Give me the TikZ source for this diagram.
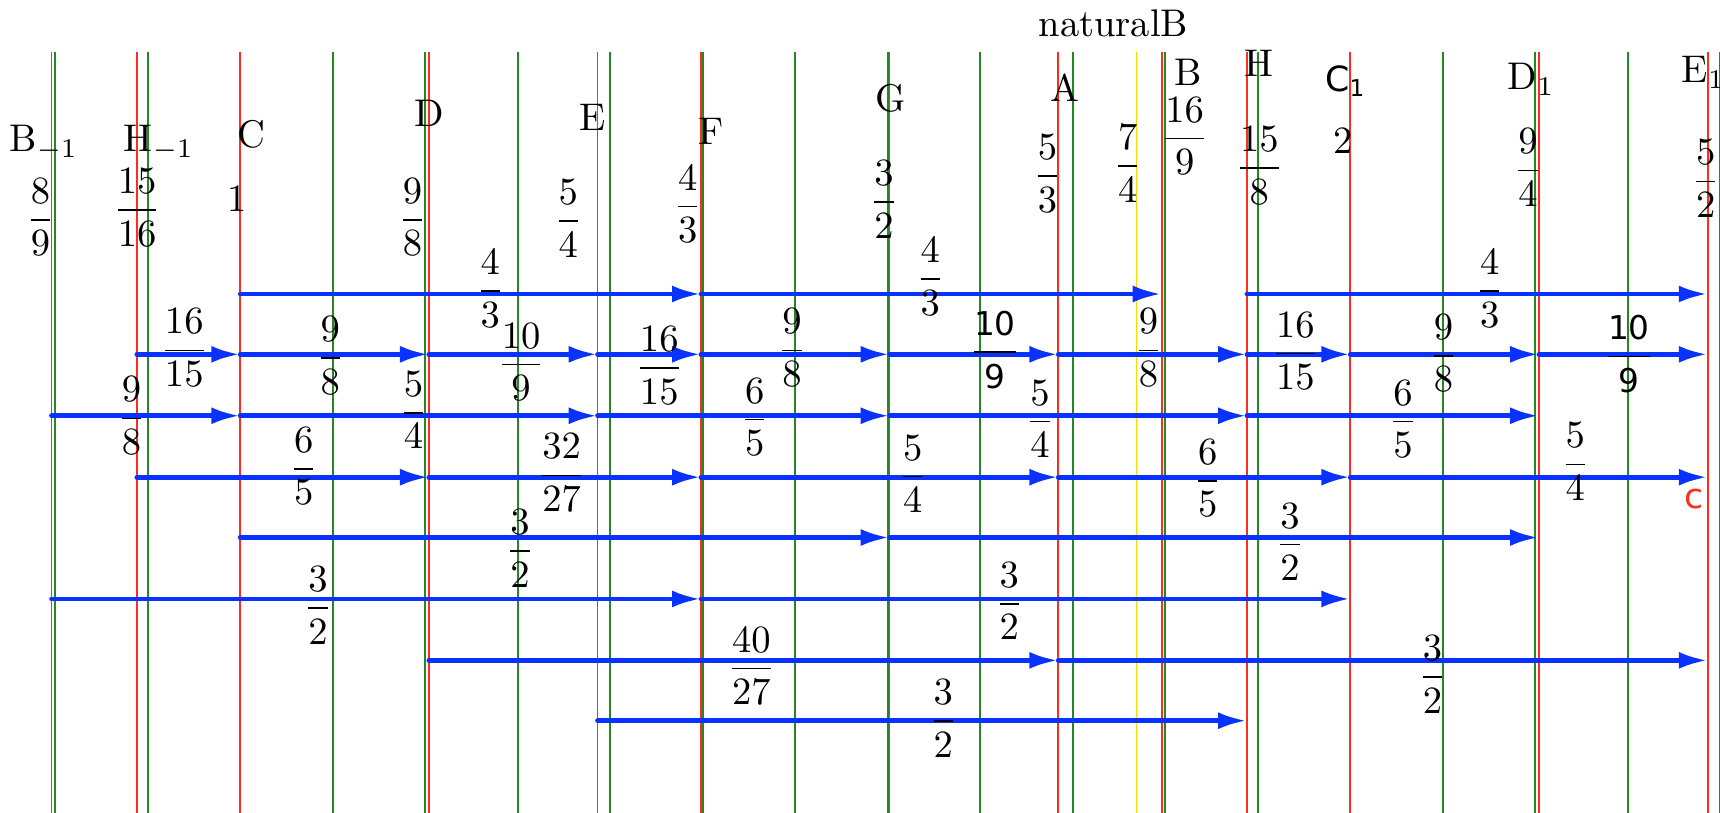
\documentclass[tikz,border=0pt]{standalone}
\usepackage{amsmath}
\usepackage{fontspec}
\newfontfamily\dejavu{DejaVu Sans}
\usetikzlibrary{arrows.meta}
\definecolor{jired}{RGB}{255,45,30}
\definecolor{etgreen}{RGB}{35,135,35}
\definecolor{septyellow}{RGB}{255,215,0}
\definecolor{stepblue}{RGB}{10,50,255}
\tikzset{
  jiline/.style={jired, line width=0.45pt},
  etline/.style={etgreen, line width=0.45pt},
  sevline/.style={septyellow, line width=0.45pt},
  interval/.style={stepblue, line width=1.25pt, line cap=round, -{Latex[length=7.5pt,width=4.4pt]}},
  every node/.style={inner sep=0pt},
}
\begin{document}
\begin{tikzpicture}[x=0.01cm, y=-0.01cm]
\useasboundingbox (0,0) rectangle (1568,741);
% note positions: C at 219, one octave = 1012
\coordinate (Bm) at (47,0);
\coordinate (Hm) at (124.8,0);
\coordinate (C) at (219,0);
\coordinate (D) at (391,0);
\coordinate (E) at (544.8,0);
\coordinate (F) at (639,0);
\coordinate (G) at (811,0);
\coordinate (A) at (964.8,0);
\coordinate (Sev) at (1036,0);
\coordinate (B) at (1059,0);
\coordinate (H) at (1136.8,0);
\coordinate (Co) at (1231,0);
\coordinate (Do) at (1403,0);
\coordinate (Eo) at (1556.8,0);
\coordinate (top) at (0,47);
\coordinate (bot) at (0,741);
% rows
\coordinate (r1) at (0,268);
\coordinate (r2) at (0,323);
\coordinate (r3) at (0,379);
\coordinate (r4) at (0,435);
\coordinate (r5) at (0,490);
\coordinate (r6) at (0,546);
\coordinate (r7) at (0,602);
\coordinate (r8) at (0,657);

% equal temperament
\foreach \k in {-2,...,16}
  \draw[etline] ({219+84.33*\k},47) -- ({219+84.33*\k},741);
% just intonation
\foreach \n in {Bm,Hm,C,D,E,F,G,A,B,H,Co,Do,Eo}
  \draw[jiline] (\n |- top) -- (\n |- bot);
\draw[sevline] (Sev |- top) -- (Sev |- bot);

% names
\node (nat) at (1015,21) {naturalB};
\node (nBm) at (40,130) {B$_{-1}$};
\node (nHm) at (145,130) {H$_{-1}$};
\node (nC) at (229,122) {C};
\node (nD) at (391,103) {D};
\node (nE) at (540,107) {E};
\node (nF) at (648,120) {F};
\node (nG) at (812,90) {G};
\node (nA) at (971,80) {A};
\node (nB) at (1083,66) {B};
\node (nH) at (1148,58) {H};
\node[font=\fontsize{9}{10}\selectfont] (nCo) at (1227,74) {\dejavu C$_{\text{1}}$};
\node (nDo) at (1396,72) {D$_1$};
\node (nEo) at (1553,66) {E$_1$};

% ratios
\node (vBm) at (37,198) {$\dfrac{8}{9}$};
\node (vHm) at (125,189) {$\dfrac{15}{16}$};
\node (vC) at (216,181) {1};
\node (vD) at (376,198) {$\dfrac{9}{8}$};
\node (vE) at (518,199) {$\dfrac{5}{4}$};
\node (vF) at (627,186) {$\dfrac{4}{3}$};
\node (vG) at (806,182) {$\dfrac{3}{2}$};
\node (vA) at (955,158) {$\dfrac{5}{3}$};
\node (vSev) at (1028,149) {$\dfrac{7}{4}$};
\node (vB) at (1080,124) {$\dfrac{16}{9}$};
\node (vH) at (1148,151) {$\dfrac{15}{8}$};
\node (vCo) at (1224,128) {2};
\node (vDo) at (1393,153) {$\dfrac{9}{4}$};
\node (vEo) at (1555,163) {$\dfrac{5}{2}$};

% fourths
\draw[interval] (C |- r1) -- (F |- r1);
\draw[interval] (F |- r1) -- (B |- r1);
\draw[interval] (H |- r1) -- (Eo |- r1);
\node (q1) at (447,263) {$\dfrac{4}{3}$};
\node (q2) at (848,252) {$\dfrac{4}{3}$};
\node (q3) at (1358,263) {$\dfrac{4}{3}$};

% steps
\draw[interval] (Hm |- r2) -- (C |- r2);
\draw[interval] (C |- r2) -- (D |- r2);
\draw[interval] (D |- r2) -- (E |- r2);
\draw[interval] (E |- r2) -- (F |- r2);
\draw[interval] (F |- r2) -- (G |- r2);
\draw[interval] (G |- r2) -- (A |- r2);
\draw[interval] (A |- r2) -- (H |- r2);
\draw[interval] (H |- r2) -- (Co |- r2);
\draw[interval] (Co |- r2) -- (Do |- r2);
\draw[interval] (Do |- r2) -- (Eo |- r2);
\node (s1) at (168,317) {$\dfrac{16}{15}$};
\node (s2) at (301,324) {$\dfrac{9}{8}$};
\node (s3) at (475,330) {$\dfrac{10}{9}$};
\node (s4) at (601,333) {$\dfrac{16}{15}$};
\node (s5) at (722,317) {$\dfrac{9}{8}$};
\node (s6) at (907,319) {$\dfrac{\text{\dejavu\fontsize{8.5}{10}\selectfont 10}}{\text{\dejavu\fontsize{8.5}{10}\selectfont 9}}$};
\node (s7) at (1047,317) {$\dfrac{9}{8}$};
\node (s8) at (1181,320) {$\dfrac{16}{15}$};
\node (s9) at (1316,322) {$\dfrac{9}{8}$};
\node (s10) at (1485,323) {$\dfrac{\text{\dejavu\fontsize{8.5}{10}\selectfont 10}}{\text{\dejavu\fontsize{8.5}{10}\selectfont 9}}$};

% thirds
\draw[interval] (Bm |- r3) -- (C |- r3);
\draw[interval] (C |- r3) -- (E |- r3);
\draw[interval] (E |- r3) -- (G |- r3);
\draw[interval] (G |- r3) -- (H |- r3);
\draw[interval] (H |- r3) -- (Do |- r3);
\node (t1) at (120,379) {$\dfrac{9}{8}$};
\node (t2) at (377,374) {$\dfrac{5}{4}$};
\node (t3) at (688,380) {$\dfrac{6}{5}$};
\node (t4) at (948,382) {$\dfrac{5}{4}$};
\node (t5) at (1279,382) {$\dfrac{6}{5}$};

\draw[interval] (Hm |- r4) -- (D |- r4);
\draw[interval] (D |- r4) -- (F |- r4);
\draw[interval] (F |- r4) -- (A |- r4);
\draw[interval] (A |- r4) -- (Co |- r4);
\draw[interval] (Co |- r4) -- (Eo |- r4);
\node (u1) at (277,425) {$\dfrac{6}{5}$};
\node (u2) at (512,431) {$\dfrac{32}{27}$};
\node (u3) at (832,432) {$\dfrac{5}{4}$};
\node (u4) at (1101,436) {$\dfrac{6}{5}$};
\node (u5) at (1436,421) {$\dfrac{5}{4}$};
\node[jired, font=\dejavu\fontsize{9}{10}\selectfont] (cmark) at (1544,455) {c};

% fifths
\draw[interval] (C |- r5) -- (G |- r5);
\draw[interval] (G |- r5) -- (Do |- r5);
\node (f1) at (474,500) {$\dfrac{3}{2}$};
\node (f2) at (1176,494) {$\dfrac{3}{2}$};

\draw[interval] (Bm |- r6) -- (F |- r6);
\draw[interval] (F |- r6) -- (Co |- r6);
\node (f3) at (290,552) {$\dfrac{3}{2}$};
\node (f4) at (920,548) {$\dfrac{3}{2}$};

\draw[interval] (D |- r7) -- (A |- r7);
\draw[interval] (A |- r7) -- (Eo |- r7);
\node (f5) at (685,607) {$\dfrac{40}{27}$};
\node (f6) at (1306,615) {$\dfrac{3}{2}$};

\draw[interval] (E |- r8) -- (H |- r8);
\node (f7) at (860,655) {$\dfrac{3}{2}$};
\end{tikzpicture}
\end{document}
